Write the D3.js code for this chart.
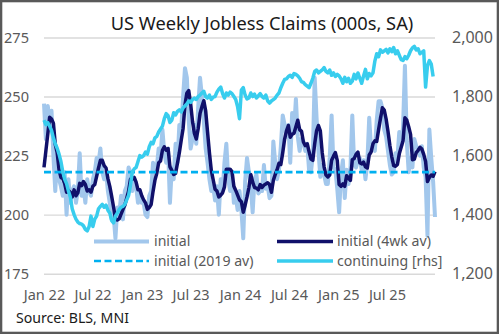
<!DOCTYPE html>
<html><head><meta charset="utf-8">
<script src="https://cdn.jsdelivr.net/npm/d3@7"></script>
<style>
html,body{margin:0;padding:0;background:#fff;}
svg{display:block;}
</style></head><body>
<svg id="c" width="499" height="334"></svg>
<script>
// ---------------- DATA ----------------
const title = "US Weekly Jobless Claims (000s, SA)";
const source = "Source: BLS, MNI";
const firstWeek = "2022-01-01"; // weekly, week ending Saturdays
const initial = [
247,232,246,240,244,225,210,226,215,212,208,218,200,215,205,210,212,205,210,226,208,212,205,215,210,208,215,218,224,222,228,218,215,218,210,205,198,200,190,203,200,208,198,210,212,220,218,210,215,212,205,210,205,
205,200,199,208,210,222,218,220,228,225,236,226,222,228,205,220,215,230,222,238,236,250,262,258,240,228,232,238,230,245,258,250,240,228,222,215,210,212,206,212,200,215,210,222,230,215,210,218,205,208,202,210,
202,190,214,224,218,212,201,215,217,209,210,210,221,211,212,207,208,231,222,215,219,229,242,238,233,238,222,243,235,249,233,227,232,231,227,230,219,218,225,258,241,227,216,221,217,213,213,224,242,220,219,211,
201,217,223,207,219,213,219,242,221,220,223,224,219,223,215,222,241,228,229,227,240,248,248,245,236,233,227,221,217,218,226,224,235,229,237,263,231,218,224,220,232,229,228,225,229,220,216,191,236,224,214,199];
const initial4wk = [
220,227,234,241.25,240.5,238.75,229.75,226.25,219,215.75,215.25,213.25,209.5,210.25,209.5,207.5,210.5,208,209.25,213.25,212.25,214,212.75,210,210.5,209.5,212,212.75,216.25,219.75,223,223,220.75,219.75,215.25,212,207.75,203.25,198.25,197.75,198.25,200.25,202.25,204,207,210,215,215,215.75,213.75,210.5,210.5,208,
206.25,205,202.25,203,204.25,209.75,214.5,217.5,222,222.75,227.25,228.75,227.25,228,220.25,218.75,217,217.5,221.75,226.25,231.5,236.5,246.5,251.5,252.5,247,239.5,234.5,232,236.25,242.75,245.75,248.25,244,235,226.25,218.75,214.75,210.75,210,207.5,208.25,209.25,211.75,219.25,219.25,219.25,218.25,212,210.25,208.25,206.25,
205.5,201,204,207.5,211.5,217,213.75,211.5,211.25,210.5,212.75,211.5,212.5,213,213.5,212.75,209.5,214.5,217,219,221.75,221.25,226.25,232,235.5,237.75,232.75,234,234.5,237.25,240,236,235.25,230.75,229.25,230,226.75,223.5,223,230,235.5,237.75,235.5,226.25,220.25,216.75,216,216.75,223,224.75,226.25,223,
212.75,212,213,212,216.5,215.5,214.5,223.25,223.75,225.5,226.5,222,221.5,222.25,220.25,219.75,225.25,226.5,230,231.25,231,236,240.75,245.25,244.25,240.5,235.25,229.25,224.5,220.75,220.5,221.25,225.75,228.5,231.25,241,240,237.25,234,223.25,223.5,226.25,227.25,228.5,227.75,225.5,222.5,214,215.75,216.75,216.25,218.25];
const initial2019avg = 218;
const continuing = [
1720,1705,1712,1700,1685,1660,1640,1625,1605,1580,1545,1520,1505,1480,1460,1420,1400,1385,1375,1370,1368,1362,1350,1345,1360,1395,1360,1385,1395,1420,1428,1435,1425,1432,1415,1405,1380,1372,1395,1405,1418,1425,1428,1435,1450,1465,1500,1545,1555,1560,1580,1600,1595,
1600,1612,1605,1630,1645,1640,1660,1665,1680,1690,1700,1725,1742,1735,1712,1720,1745,1738,1750,1755,1748,1762,1768,1775,1785,1780,1790,1795,1790,1800,1805,1812,1818,1800,1795,1805,1790,1798,1800,1815,1825,1832,1810,1795,1812,1805,1815,1810,1800,1790,1765,1725,
1822,1830,1805,1792,1795,1812,1800,1808,1795,1802,1810,1800,1795,1805,1785,1778,1785,1790,1795,1805,1812,1830,1845,1858,1860,1868,1872,1865,1878,1875,1870,1862,1850,1848,1840,1835,1830,1845,1862,1885,1890,1880,1885,1890,1898,1885,1880,1890,1872,1880,1868,1875,
1870,1860,1845,1865,1850,1862,1845,1852,1875,1860,1880,1862,1845,1870,1892,1860,1878,1870,1880,1920,1945,1935,1958,1950,1955,1960,1948,1962,1952,1966,1945,1955,1940,1925,1922,1935,1928,1940,1955,1965,1970,1958,1962,1945,1950,1955,1832,1905,1922,1910,1868];
const leftTicks = [175, 200, 225, 250, 275];
const rightTicks = [1200, 1400, 1600, 1800, 2000];
const xTickDates = ["2022-01-01","2022-07-01","2023-01-01","2023-07-01","2024-01-01","2024-07-01","2025-01-01","2025-07-01"];
const legendItems = ["initial", "initial (4wk av)", "initial (2019 av)", "continuing [rhs]"];

// ---------------- STYLE ----------------
const FONT = "'Noto Sans', 'Open Sans', sans-serif";
const C = {
  initial: "#a2c7ec",
  avg4: "#10106a",
  avg2019: "#00b0f0",
  cont: "#38cdee",
  grid: "#d9d9d9",
  axisText: "#595959",
  dark: "#1a1a1a",
  border: "#595959"
};
const M = {left: 44, right: 435, top: 37.5, bottom: 273.7};

const svg = d3.select("#c");
const parse = d3.timeParse("%Y-%m-%d");
const start = parse(firstWeek);
const weeks = d3.range(initial.length).map(i => d3.timeDay.offset(start, 7 * i));

const x = d3.scaleTime().domain([weeks[0], weeks[weeks.length - 1]]).range([M.left, M.right]);
const yL = d3.scaleLinear().domain([175, 275]).range([M.bottom, M.top]);
const yR = d3.scaleLinear().domain([1200, 2000]).range([M.bottom, M.top]);

function fitSize(sample, target, base = 14) {
  const t = svg.append("text").attr("font-family", FONT).attr("font-size", base).text(sample);
  const w = t.node().getComputedTextLength();
  t.remove();
  return base * target / w;
}
const fsTick = fitSize("Jan 22", 41.5);
const fsLeft = fitSize("275", 25);
const fsRight = fitSize("2,000", 41);
const fsLegend = fitSize("initial (4wk av)", 94);
const fsTitle = fitSize(title, 303);
const fsSource = fitSize(source, 113);

// background + border
svg.append("rect").attr("x", 0).attr("y", 0).attr("width", 499).attr("height", 334).attr("fill", "#fff");
svg.append("rect").attr("x", 1.15).attr("y", 1.15).attr("width", 496.7).attr("height", 331.7)
  .attr("fill", "none").attr("stroke", C.border).attr("stroke-width", 2.3);

// gridlines
const grid = svg.append("g").attr("transform", `translate(${M.left},0)`)
  .call(d3.axisLeft(yL).tickValues(leftTicks).tickSize(-(M.right - M.left)).tickFormat(""));
grid.select(".domain").remove();
grid.selectAll("line").attr("stroke", C.grid).attr("stroke-width", 1.4);

// left axis labels
const gl = svg.append("g").attr("transform", `translate(${M.left},0)`)
  .call(d3.axisLeft(yL).tickValues(leftTicks).tickSize(0).tickPadding(15));
gl.select(".domain").remove();
gl.selectAll("text").attr("font-family", FONT).attr("font-size", fsLeft).attr("fill", C.axisText);

// right axis labels
const gr = svg.append("g").attr("transform", `translate(${M.right},0)`)
  .call(d3.axisRight(yR).tickValues(rightTicks).tickSize(0).tickPadding(17).tickFormat(d3.format(",")));
gr.select(".domain").remove();
gr.selectAll("text").attr("font-family", FONT).attr("font-size", fsRight).attr("fill", C.axisText);

// x axis labels
const gx = svg.append("g").attr("transform", `translate(0,${M.bottom})`)
  .call(d3.axisBottom(x).tickValues(xTickDates.map(parse)).tickSize(0).tickFormat(d3.timeFormat("%b %y")));
gx.select(".domain").remove();
gx.selectAll("text").attr("font-family", FONT).attr("font-size", fsTick).attr("fill", C.axisText)
  .attr("dy", null).attr("y", 300 - M.bottom);

// series
const lineL = (arr) => d3.line().x((d, i) => x(weeks[i])).y(d => yL(d))(arr);
const lineR = (arr) => d3.line().x((d, i) => x(weeks[i])).y(d => yR(d))(arr);

svg.append("path").attr("d", lineL(initial)).attr("fill", "none")
  .attr("stroke", C.initial).attr("stroke-width", 4).attr("stroke-linejoin", "round");
svg.append("path").attr("d", lineL(initial4wk)).attr("fill", "none")
  .attr("stroke", C.avg4).attr("stroke-width", 3.5).attr("stroke-linejoin", "round");
svg.append("line").attr("x1", x(weeks[0])).attr("x2", x(weeks[weeks.length - 1]))
  .attr("y1", yL(initial2019avg)).attr("y2", yL(initial2019avg))
  .attr("stroke", C.avg2019).attr("stroke-width", 2.6).attr("stroke-dasharray", "7,3.5");
svg.append("path").attr("d", lineR(continuing)).attr("fill", "none")
  .attr("stroke", C.cont).attr("stroke-width", 3.5).attr("stroke-linejoin", "round");

// legend
const leg = [
  {label: legendItems[0], x1: 94, x2: 149, tx: 154, y: 241.5, color: C.initial, w: 4, dash: null},
  {label: legendItems[1], x1: 277, x2: 333, tx: 337, y: 241.5, color: C.avg4, w: 3.5, dash: null},
  {label: legendItems[2], x1: 94, x2: 149, tx: 154, y: 261, color: C.avg2019, w: 2.6, dash: "7,3.5"},
  {label: legendItems[3], x1: 277, x2: 333, tx: 337, y: 261, color: C.cont, w: 3.5, dash: null}
];
const lg = svg.append("g");
leg.forEach(d => {
  lg.append("line").attr("x1", d.x1).attr("x2", d.x2).attr("y1", d.y).attr("y2", d.y)
    .attr("stroke", d.color).attr("stroke-width", d.w).attr("stroke-dasharray", d.dash);
  lg.append("text").attr("x", d.tx).attr("y", d.y).attr("dy", "0.35em")
    .attr("font-family", FONT).attr("font-size", fsLegend).attr("fill", C.axisText).text(d.label);
});

// title and source
svg.append("text").attr("x", 262).attr("y", 29.5).attr("text-anchor", "middle")
  .attr("font-family", FONT).attr("font-size", fsTitle).attr("fill", C.dark).text(title);
svg.append("text").attr("x", 16).attr("y", 322.5)
  .attr("font-family", FONT).attr("font-size", fsSource).attr("fill", C.dark).text(source);
</script>
</body></html>
